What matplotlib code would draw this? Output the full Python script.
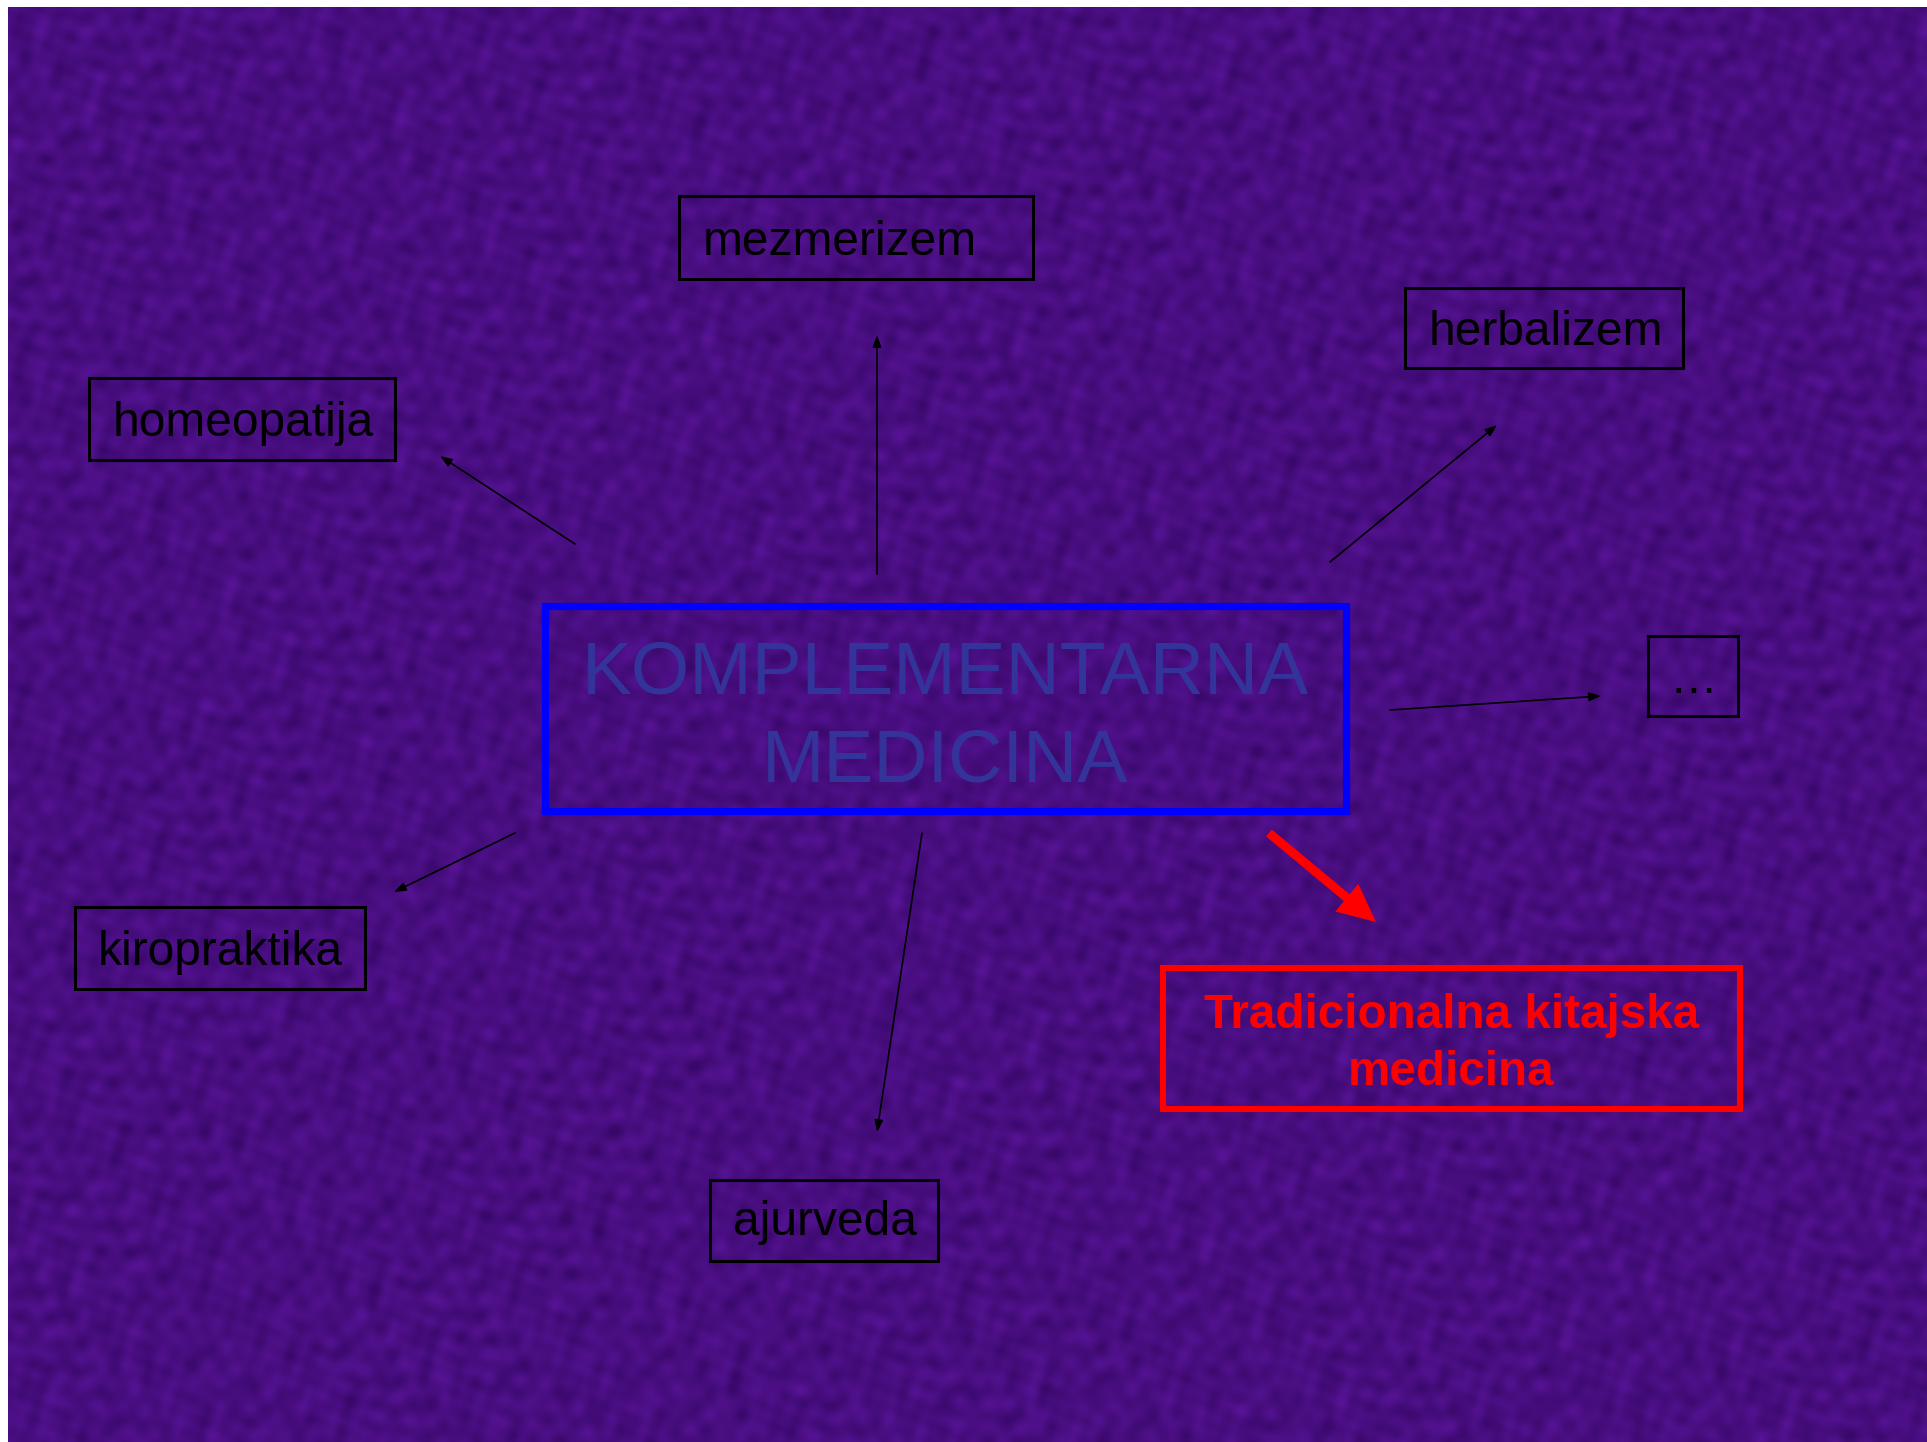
import numpy as np
import matplotlib
matplotlib.use("Agg")
import matplotlib.pyplot as plt
from matplotlib.patches import Rectangle, FancyArrow

plt.rcParams['font.family'] = ['Liberation Sans', 'DejaVu Sans']

# ---- content ----
center_lines = ["KOMPLEMENTARNA", "MEDICINA"]
satellite_labels = ["mezmerizem", "herbalizem", "homeopatija", "\u2026", "kiropraktika", "ajurveda"]
highlight_lines = ["Tradicionalna kitajska", "medicina"]

# ---- layout (pixel coordinates, y downward) ----
sat_boxes = [(679, 196, 1033, 279), (1405, 288, 1683, 368), (89, 378, 395, 460),
             (1648, 636, 1738, 716), (75, 907, 365, 989), (710, 1180, 938, 1261)]
sat_text = [(703, 255), (1429, 345), (113, 436), (1669, 693), (98, 965), (733, 1235)]
sat_arrows = [((877, 574), (877, 335)), ((1330, 562), (1497, 425)), ((575, 544), (440, 456)),
              ((1390, 710), (1601, 696)), ((515, 833), (394, 892)), ((922, 833), (877, 1132))]
center_box = (545, 606, 1346, 811)
center_baselines = [693, 782]
red_box = (1163, 968, 1740, 1109)
red_baselines = [1028, 1085]
red_arrow = ((1269, 833), (1376, 922))

W, H = 1927, 1442
fig = plt.figure(figsize=(W / 100, H / 100), dpi=100, facecolor='white')
ax = fig.add_axes([0, 0, 1, 1])
ax.set_xlim(0, W)
ax.set_ylim(H, 0)
ax.axis('off')

# background texture (deterministic fine marbled pattern)
bx0, by0 = 8, 7
ny, nx = 480, 640
yy, xx = np.mgrid[0:ny, 0:nx].astype(float)
t = np.zeros((ny, nx))
dirs = [(0.41, 0.23, 0.3), (-0.37, 0.43, 1.1), (0.61, -0.17, 2.3), (0.09, 0.67, 0.7),
        (-0.53, -0.39, 1.9), (0.83, 0.49, 0.2), (-0.21, 0.87, 2.9), (0.29, 0.11, 1.4)]
for fx, fy, ph in dirs:
    t += np.sin(fx * xx + fy * yy + ph + 2.1 * np.sin(0.13 * xx - 0.11 * yy + ph))
t /= np.abs(t).max()
base = np.array([72, 14, 128]) / 255.0
amp = np.array([18, 7, 26]) / 255.0
img = np.clip(base[None, None, :] + t[:, :, None] * amp[None, None, :], 0, 1)
ax.imshow(img, extent=(bx0, W, H, by0), interpolation='bilinear', zorder=0, aspect='auto')

# satellite boxes and labels
for (x0, y0, x1, y1), label, (tx, ty) in zip(sat_boxes, satellite_labels, sat_text):
    ax.add_patch(Rectangle((x0, y0), x1 - x0, y1 - y0, fill=False, edgecolor='black',
                           linewidth=2.2, zorder=3))
    ax.text(tx, ty, label, fontsize=34.5, color='black', ha='left', va='baseline', zorder=4)

# thin arrows
for (sx, sy), (ex, ey) in sat_arrows:
    ax.annotate('', xy=(ex, ey), xytext=(sx, sy),
                arrowprops=dict(arrowstyle='-|>,head_length=7,head_width=2.6',
                                mutation_scale=1, color='black', lw=1.2,
                                shrinkA=0, shrinkB=0), zorder=3)

# center box
x0, y0, x1, y1 = center_box
ax.add_patch(Rectangle((x0, y0), x1 - x0, y1 - y0, fill=False, edgecolor='#0000FF',
                       linewidth=5.2, zorder=3))
for line, by in zip(center_lines, center_baselines):
    ax.text((x0 + x1) / 2, by, line, fontsize=54, color='#333399', ha='center',
            va='baseline', zorder=4)

# highlighted box
x0, y0, x1, y1 = red_box
ax.add_patch(Rectangle((x0, y0), x1 - x0, y1 - y0, fill=False, edgecolor='#FF0000',
                       linewidth=4.4, zorder=3))
for line, by in zip(highlight_lines, red_baselines):
    ax.text((x0 + x1) / 2, by, line, fontsize=34.3, fontweight='bold', color='#FF0000',
            ha='center', va='baseline', zorder=4)

# red arrow
(sx, sy), (ex, ey) = red_arrow
ax.add_patch(FancyArrow(sx, sy, ex - sx, ey - sy, width=9, head_width=36, head_length=38,
                        length_includes_head=True, color='#FF0000', linewidth=0, zorder=3))

fig.savefig('out.png', dpi=100, facecolor='white')
